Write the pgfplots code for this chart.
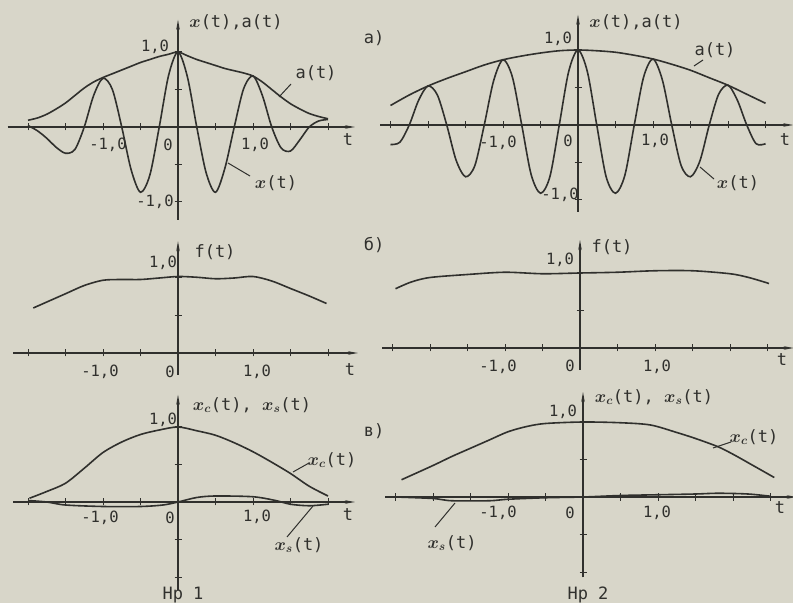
\documentclass[border=0pt]{standalone}
\usepackage{pgfplots}
\pgfplotsset{compat=1.18}
\usepackage{fontspec}
\setmainfont{DejaVu Sans Mono}
\usetikzlibrary{arrows.meta}
\definecolor{paper}{RGB}{216,214,201}
\definecolor{ink}{RGB}{48,48,45}

\pgfplotsset{
  panel/.style={
    anchor=origin, axis lines=middle, x=75pt, y=75pt,
    enlargelimits=false, clip=false,
    axis line style={line width=1.2pt, draw=ink, -{Stealth[length=10pt,width=3.5pt]}},
    ytick={-1,-0.5,0.5,1},
    xticklabels={}, yticklabels={},
    major tick length=7pt, tick align=center,
    tick style={line width=1pt, draw=ink},
    cycle list={{draw=ink}},
    every axis plot post/.append style={line width=1.6pt, draw=ink, smooth, no marks},
  },
  leftx/.style={xtick={-2,-1.5,...,2}},
  rightx/.style={xtick={-2.5,-2,...,2.5}},
}
\tikzset{
  lbl/.style={font=\fontsize{15.5}{17}\selectfont\boldmath},
  ttl/.style={font=\fontsize{17}{19}\selectfont\boldmath},
}

\begin{document}
\begin{tikzpicture}
\useasboundingbox (0,0) rectangle (793pt,603pt);
\fill[paper] (0,0) rectangle (793pt,603pt);

% ---- a) left: x(t) and its envelope a(t)
\begin{axis}[panel, leftx, at={(178pt,476pt)},
  xmin=-2.27, xmax=2.36, ymin=-1.24, ymax=1.43]
\addplot coordinates {(-2,0.09) (-1.875,0.12) (-1.75,0.17) (-1.625,0.24) (-1.5,0.32)
  (-1.375,0.42) (-1.25,0.52) (-1.125,0.60) (-1,0.66) (-0.875,0.71) (-0.75,0.76)
  (-0.625,0.81) (-0.5,0.86) (-0.375,0.90) (-0.25,0.94) (-0.125,0.97) (0,1.0)
  (0.125,0.95) (0.25,0.90) (0.375,0.86) (0.5,0.82) (0.625,0.78) (0.75,0.75)
  (0.875,0.72) (1,0.68) (1.125,0.60) (1.25,0.50) (1.375,0.40) (1.5,0.31)
  (1.625,0.24) (1.75,0.18) (1.875,0.14) (2,0.11)};
\addplot coordinates {(-2,0.02) (-1.875,-0.05) (-1.75,-0.15) (-1.625,-0.27) (-1.5,-0.35)
  (-1.375,-0.30) (-1.25,0) (-1.125,0.42) (-1,0.65) (-0.875,0.50) (-0.75,0)
  (-0.625,-0.57) (-0.5,-0.87) (-0.375,-0.64) (-0.25,0) (-0.125,0.69) (0,1.0)
  (0.125,0.67) (0.25,0) (0.375,-0.61) (0.5,-0.87) (0.625,-0.55) (0.75,0)
  (0.875,0.51) (1,0.68) (1.125,0.42) (1.25,0) (1.375,-0.28) (1.5,-0.32)
  (1.625,-0.17) (1.75,0) (1.875,0.08) (2,0.10)};
\end{axis}

% ---- a) right
\begin{axis}[panel, rightx, at={(578pt,478pt)},
  xmin=-2.64, xmax=2.87, ymin=-1.16, ymax=1.47]
\addplot coordinates {(-2.5,0.26) (-2.25,0.40) (-2,0.52) (-1.75,0.62) (-1.5,0.71)
  (-1.25,0.80) (-1,0.87) (-0.75,0.92) (-0.5,0.96) (-0.25,0.99) (0,1.0)
  (0.25,0.99) (0.5,0.97) (0.75,0.93) (1,0.88) (1.25,0.81) (1.5,0.73)
  (1.75,0.63) (2,0.53) (2.25,0.41) (2.5,0.29)};
\addplot coordinates {(-2.5,-0.26) (-2.375,-0.23) (-2.25,0) (-2.125,0.33) (-2,0.52)
  (-1.875,0.40) (-1.75,0) (-1.625,-0.47) (-1.5,-0.69) (-1.375,-0.54) (-1.25,0)
  (-1.125,0.59) (-1,0.87) (-0.875,0.64) (-0.75,0) (-0.625,-0.66) (-0.5,-0.91)
  (-0.375,-0.69) (-0.25,0) (-0.125,0.71) (0,1.0) (0.125,0.71) (0.25,0)
  (0.375,-0.69) (0.5,-0.91) (0.625,-0.67) (0.75,0) (0.875,0.64) (1,0.88)
  (1.125,0.60) (1.25,0) (1.375,-0.54) (1.5,-0.69) (1.625,-0.48) (1.75,0)
  (1.875,0.41) (2,0.53) (2.125,0.33) (2.25,0) (2.375,-0.25) (2.5,-0.25)};
\end{axis}

% ---- б) left: f(t)
\begin{axis}[panel, leftx, at={(178pt,250pt)},
  xmin=-2.2, xmax=2.4, ymin=-0.29, ymax=1.49]
\addplot coordinates {(-1.93,0.60) (-1.5,0.79) (-1.25,0.90) (-1,0.97) (-0.75,0.98)
  (-0.5,0.98) (-0.25,1.0) (0,1.02) (0.25,1.01) (0.5,0.99) (0.75,1.0) (1,1.02)
  (1.25,0.96) (1.5,0.86) (1.75,0.76) (1.98,0.66)};
\end{axis}

% ---- б) right
\begin{axis}[panel, rightx, at={(580pt,255pt)},
  xmin=-2.64, xmax=2.85, ymin=-0.29, ymax=1.44]
\addplot coordinates {(-2.46,0.79) (-2.25,0.88) (-2,0.94) (-1.5,0.98) (-1,1.01)
  (-0.5,0.99) (0,1.0) (0.5,1.01) (1,1.03) (1.5,1.03) (2,0.99) (2.25,0.94)
  (2.52,0.86)};
\end{axis}

% ---- в) left: x_c(t), x_s(t)
\begin{axis}[panel, leftx, at={(178pt,101pt)},
  xmin=-2.2, xmax=2.36, ymin=-1.17, ymax=1.43]
\addplot coordinates {(-1.98,0.05) (-1.75,0.14) (-1.5,0.25) (-1.25,0.45) (-1.0,0.66)
  (-0.75,0.80) (-0.5,0.90) (-0.25,0.96) (0,1.0) (0.25,0.95) (0.5,0.89)
  (0.75,0.79) (1.0,0.67) (1.25,0.53) (1.5,0.38) (1.75,0.21) (2.0,0.08)};
\addplot coordinates {(-2,0.02) (-1.75,0.0) (-1.5,-0.04) (-1.0,-0.06) (-0.5,-0.06)
  (-0.2,-0.04) (0,0.0) (0.25,0.06) (0.5,0.08) (1.0,0.07) (1.3,0.02) (1.5,-0.03)
  (1.75,-0.05) (2.0,-0.03)};
\end{axis}

% ---- в) right
\begin{axis}[panel, rightx, at={(583pt,106pt)},
  xmin=-2.64, xmax=2.85, ymin=-1.07, ymax=1.40]
\addplot coordinates {(-2.42,0.23) (-2,0.42) (-1.75,0.54) (-1.5,0.65) (-1.25,0.76)
  (-1,0.87) (-0.75,0.94) (-0.5,0.98) (0,1.0) (0.5,0.99) (0.9,0.96) (1.25,0.86)
  (1.5,0.78) (1.8,0.67) (2.0,0.57) (2.25,0.43) (2.55,0.26)};
\addplot coordinates {(-2.5,0.0) (-2,-0.02) (-1.75,-0.05) (-1.25,-0.05) (-1,-0.03)
  (-0.5,-0.01) (0,0.0) (0.5,0.02) (1,0.03) (1.5,0.04) (1.8,0.05) (2.2,0.04)
  (2.5,0.01)};
\end{axis}

% ---- lettering (positions in page units, y measured downward)
\begin{scope}[x=1pt, y=-1pt, yshift=603pt, text=ink, inner sep=0pt]
  \draw[ink, line width=1pt] (291,84) -- (279,97);
  \draw[ink, line width=1pt] (250,176) -- (228,163);
  \draw[ink, line width=1pt] (703,60) -- (694,66);
  \draw[ink, line width=1pt] (714,179) -- (700,167);
  \draw[ink, line width=1pt] (309,463) -- (293,472);
  \draw[ink, line width=1pt] (287,537) -- (313,506);
  \draw[ink, line width=1pt] (731,442) -- (713,448);
  \draw[ink, line width=1pt] (435,527) -- (455,503);

  % a)
  \node[ttl] at (236,22) {$x$(t),a(t)};
  \node[lbl] at (155,47) {1,0};
  \node[lbl] at (155,202) {-1,0};
  \node[lbl] at (108,145) {-1,0};
  \node[lbl] at (168,145) {0};
  \node[lbl] at (255,145) {1,0};
  \node[ttl] at (348,140) {t};
  \node[ttl] at (316,73) {a(t)};
  \node[ttl] at (276,183) {$x$(t)};
  \node[ttl] at (374,38) {а)};

  \node[ttl] at (636,22) {$x$(t),a(t)};
  \node[lbl] at (558,39) {1,0};
  \node[lbl] at (560,195) {-1,0};
  \node[lbl] at (498,143) {-1,0};
  \node[lbl] at (568,141) {0};
  \node[lbl] at (655,141) {1,0};
  \node[ttl] at (785,140) {t};
  \node[ttl] at (715,50) {a(t)};
  \node[ttl] at (738,183) {$x$(t)};

  % б)
  \node[ttl] at (215,252) {f(t)};
  \node[lbl] at (163,263) {1,0};
  \node[ttl] at (374,245) {б)};
  \node[lbl] at (100,372) {-1,0};
  \node[lbl] at (170,372) {0};
  \node[lbl] at (257,372) {1,0};
  \node[ttl] at (350,370) {t};

  \node[ttl] at (612,247) {f(t)};
  \node[lbl] at (560,260) {1,0};
  \node[lbl] at (498,367) {-1,0};
  \node[lbl] at (570,366) {0};
  \node[lbl] at (657,367) {1,0};
  \node[ttl] at (782,360) {t};

  % в)
  \node[ttl] at (252,405) {$x_c$(t), $x_s$(t)};
  \node[lbl] at (163,420) {1,0};
  \node[ttl] at (374,431) {в)};
  \node[ttl] at (332,460) {$x_c$(t)};
  \node[ttl] at (299,545) {$x_s$(t)};
  \node[lbl] at (100,518) {-1,0};
  \node[lbl] at (170,518) {0};
  \node[lbl] at (257,517) {1,0};
  \node[ttl] at (348,515) {t};
  \node[ttl] at (183,595) {Нр 1};

  \node[ttl] at (654,397) {$x_c$(t), $x_s$(t)};
  \node[lbl] at (563,412) {1,0};
  \node[ttl] at (754,437) {$x_c$(t)};
  \node[ttl] at (452,543) {$x_s$(t)};
  \node[lbl] at (498,513) {-1,0};
  \node[lbl] at (570,513) {0};
  \node[lbl] at (657,513) {1,0};
  \node[ttl] at (780,508) {t};
  \node[ttl] at (588,595) {Нр 2};
\end{scope}
\end{tikzpicture}
\end{document}
